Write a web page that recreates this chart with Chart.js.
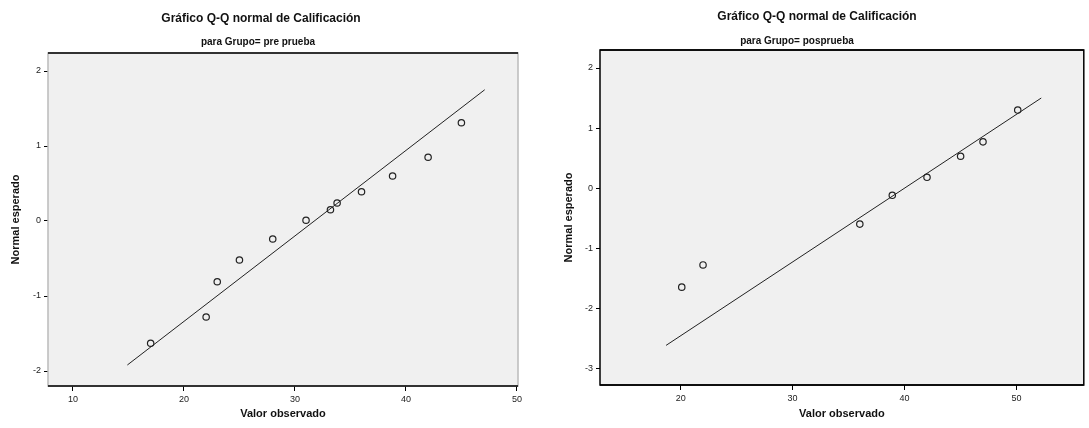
<!DOCTYPE html>
<html>
<head>
<meta charset="utf-8">
<script src="https://cdn.jsdelivr.net/npm/chart.js@4/dist/chart.umd.min.js"></script>
<style>
  body { margin: 0; background: #fff; }
  #wrap { position: relative; width: 1089px; height: 428px; }
  .box { position: absolute; top: 0; height: 428px; }
</style>
</head>
<body>
<div id="wrap">
  <div class="box" style="left:0;width:545px"><canvas id="pre" width="545" height="428"></canvas></div>
  <div class="box" style="left:545px;width:544px"><canvas id="post" width="544" height="428"></canvas></div>
</div>
<script>
// pre prueba: valor observado / normal esperado
var preObs = [17, 22, 23, 25, 28, 31, 33.2, 33.8, 36, 38.8, 42, 45];
var preEsp = [-1.63, -1.28, -0.81, -0.52, -0.24, 0.01, 0.15, 0.24, 0.39, 0.60, 0.85, 1.31];
var preLineX = [14.9, 47.1];
var preLineY = [-1.92, 1.75];
var preXTicks = [10, 20, 30, 40, 50];
var preYTicks = [2, 1, 0, -1, -2];

// posprueba
var postObs = [20.1, 22, 36, 38.9, 42, 45, 47, 50.1];
var postEsp = [-1.65, -1.28, -0.60, -0.12, 0.18, 0.53, 0.77, 1.30];
var postLineX = [18.7, 52.2];
var postLineY = [-2.62, 1.50];
var postXTicks = [20, 30, 40, 50];
var postYTicks = [2, 1, 0, -1, -2, -3];

var FONT = '"Liberation Sans", Arial, sans-serif';

function pts(xs, ys) {
  return xs.map(function (x, i) { return { x: x, y: ys[i] }; });
}

// fondo gris + marco + titulos
var frame = {
  id: 'frame',
  beforeDraw: function (chart, args, o) {
    var a = chart.chartArea, c = chart.ctx;
    c.save();
    c.fillStyle = '#f0f0f0';
    c.fillRect(a.left, a.top, a.right - a.left, a.bottom - a.top);
    c.restore();
  },
  afterDraw: function (chart, args, o) {
    var a = chart.chartArea, c = chart.ctx;
    c.save();
    c.lineWidth = 1.5;
    c.strokeStyle = o.sides;
    c.strokeRect(a.left, a.top, a.right - a.left, a.bottom - a.top);
    c.strokeStyle = '#000';
    c.beginPath();
    c.moveTo(a.left, a.top); c.lineTo(a.right, a.top);
    c.moveTo(a.left, a.bottom); c.lineTo(a.right, a.bottom);
    c.stroke();
    c.fillStyle = '#111';
    c.textAlign = 'center';
    c.textBaseline = 'middle';
    c.font = 'bold 12px ' + FONT;
    c.fillText(o.title, o.tx, o.ty);
    c.font = 'bold 10px ' + FONT;
    c.fillText(o.sub, o.sx, o.sy);
    c.restore();
  }
};

function makeChart(id, obs, esp, lx, ly, xt, yt, cfg) {
  return new Chart(document.getElementById(id), {
    type: 'scatter',
    data: {
      datasets: [{
        data: pts(obs, esp),
        pointRadius: 3.2,
        pointBorderWidth: 1.2,
        pointBackgroundColor: 'rgba(0,0,0,0)',
        pointBorderColor: '#222'
      }, {
        type: 'line',
        data: pts(lx, ly),
        borderColor: '#222',
        borderWidth: 1,
        pointRadius: 0,
        fill: false
      }]
    },
    options: {
      responsive: false,
      animation: false,
      layout: { padding: { top: cfg.top, right: cfg.right, left: 0, bottom: 0 } },
      plugins: {
        legend: { display: false },
        tooltip: { enabled: false },
        frame: cfg.frame
      },
      scales: {
        x: {
          type: 'linear', min: cfg.xmin, max: cfg.xmax,
          afterBuildTicks: function (s) { s.ticks = xt.map(function (v) { return { value: v }; }); },
          afterFit: function (s) { s.height = cfg.xh; },
          grid: { drawOnChartArea: false, drawTicks: true, tickLength: 5, color: '#000', lineWidth: 1 },
          border: { display: false },
          ticks: { color: '#222', font: { family: FONT, size: 9 }, padding: 3, maxRotation: 0 },
          title: { display: true, text: 'Valor observado', color: '#111',
                   font: { family: FONT, size: 11, weight: 'bold' }, padding: { top: 0, bottom: 7 } }
        },
        y: {
          type: 'linear', min: cfg.ymin, max: cfg.ymax,
          afterBuildTicks: function (s) { s.ticks = yt.map(function (v) { return { value: v }; }); },
          afterFit: function (s) { s.width = cfg.yw; },
          grid: { drawOnChartArea: false, drawTicks: true, tickLength: 4, color: '#000', lineWidth: 1 },
          border: { display: false },
          ticks: { color: '#222', font: { family: FONT, size: 9 }, padding: 3 },
          title: { display: true, text: 'Normal esperado', color: '#111',
                   font: { family: FONT, size: 11, weight: 'bold' }, padding: { top: cfg.ytp, bottom: 0 } }
        }
      }
    },
    plugins: [frame]
  });
}

makeChart('pre', preObs, preEsp, preLineX, preLineY, preXTicks, preYTicks, {
  top: 53, right: 27, xh: 42, yw: 48, ytp: 9,
  xmin: 7.75, xmax: 50.1, ymin: -2.2, ymax: 2.24,
  frame: { sides: '#bbb', title: 'Gráfico Q-Q normal de Calificación', tx: 261, ty: 19,
           sub: 'para Grupo= pre prueba', sx: 258, sy: 42 }
});

makeChart('post', postObs, postEsp, postLineX, postLineY, postXTicks, postYTicks, {
  top: 50, right: 5, xh: 43, yw: 55, ytp: 17,
  xmin: 12.8, xmax: 56.0, ymin: -3.28, ymax: 2.3,
  frame: { sides: '#000', title: 'Gráfico Q-Q normal de Calificación', tx: 272, ty: 17,
           sub: 'para Grupo= posprueba', sx: 252, sy: 41 }
});
</script>
</body>
</html>
